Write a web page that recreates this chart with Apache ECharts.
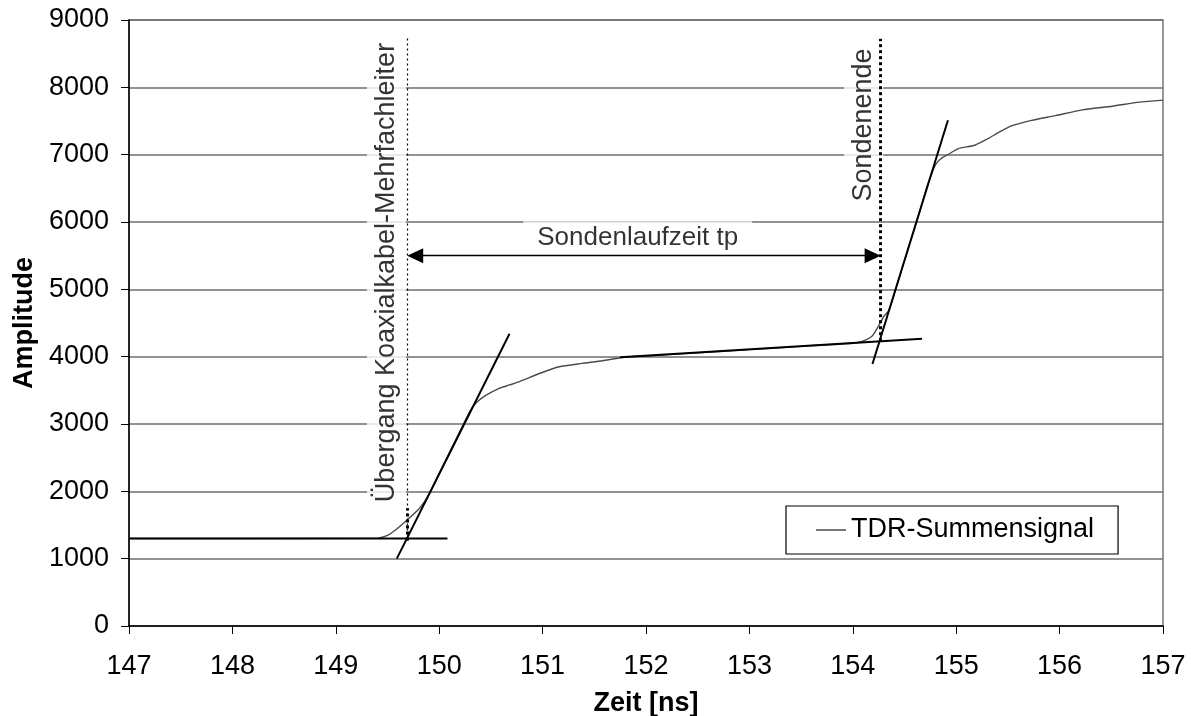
<!DOCTYPE html>
<html>
<head>
<meta charset="utf-8">
<script src="https://cdn.jsdelivr.net/npm/echarts@6/dist/echarts.min.js"></script>
<style>
  html, body { margin: 0; padding: 0; background: #fff; }
  #chart { width: 1191px; height: 716px; }
</style>
</head>
<body>
<div id="chart"></div>
<script>
// TDR-Summensignal (Zeit [ns], Amplitude)
var signal = [
  [147, 1300], [149.40, 1302], [149.45, 1318], [149.50, 1345], [149.58, 1430],
  [149.69, 1575], [149.81, 1750], [149.89, 1925], [150.00, 2270], [150.10, 2580],
  [150.20, 2890], [150.30, 3200], [150.36, 3320], [150.45, 3425], [150.58, 3530],
  [150.68, 3580], [150.77, 3625], [150.97, 3750], [151.16, 3850], [151.38, 3900],
  [151.58, 3940], [151.77, 3988], [152.00, 4010], [152.50, 4057], [153.00, 4105],
  [153.50, 4153], [154.00, 4200], [154.09, 4225], [154.19, 4311], [154.25, 4459],
  [154.30, 4600], [154.35, 4690], [154.50, 5430], [154.65, 6175], [154.72, 6530],
  [154.80, 6850], [154.86, 6950], [154.93, 7010], [155.02, 7090], [155.18, 7140],
  [155.31, 7240], [155.41, 7330], [155.54, 7430], [155.73, 7510], [155.96, 7580],
  [156.22, 7665], [156.51, 7720], [156.77, 7780], [157, 7810]
];

// Tangenten
var baseTangent = [[147, 1300], [150.08, 1300]];
var riseTangent1 = [[149.59, 1000], [150.68, 4340]];
var plateauTangent = [[151.75, 3990], [154.67, 4265]];
var riseTangent2 = [[154.19, 3890], [154.92, 7510]];

// Markierungen
var markerX = [149.69, 154.27];
var marker1Y = [1270, 1750, 8770];
var marker2Y = [4230, 8720];
var arrowY = 5500;
var arrowInset = 0.078;

var xTicks = [147, 148, 149, 150, 151, 152, 153, 154, 155, 156, 157];
var yTicks = [0, 1000, 2000, 3000, 4000, 5000, 6000, 7000, 8000, 9000];

var textLabels = [
  { text: 'Übergang Koaxialkabel-Mehrfachleiter', pos: [149.49, 5250], rotate: 90 },
  { text: 'Sondenende', pos: [154.105, 7440], rotate: 90 },
  { text: 'Sondenlaufzeit tp', pos: [151.92, 5760], rotate: 0 }
];

var font = 'Arial, "Liberation Sans", sans-serif';

function tangent(data) {
  return {
    type: 'line', data: data, symbol: 'none', silent: true, z: 4,
    lineStyle: { color: '#000', width: 2 }
  };
}

var chart = echarts.init(document.getElementById('chart'));
var option = {
  animation: false,
  backgroundColor: '#fff',
  textStyle: { fontFamily: font },
  grid: {
    left: 129, right: 28, top: 20, bottom: 90,
    outerBoundsMode: 'none', containLabel: false,
    show: true, borderColor: '#777', borderWidth: 1.5
  },
  legend: {
    data: ['TDR-Summensignal'],
    left: 786, top: 506,
    padding: [10, 24, 10, 30],
    borderColor: '#000', borderWidth: 1.2,
    icon: 'rect', itemWidth: 30, itemHeight: 1.5, itemGap: 5,
    textStyle: { fontSize: 27, color: '#000', fontFamily: font, lineHeight: 28 }
  },
  xAxis: {
    type: 'value', min: xTicks[0], max: xTicks[xTicks.length - 1], interval: 1,
    name: 'Zeit [ns]', nameLocation: 'middle', nameGap: 64,
    nameTextStyle: { fontSize: 27, fontWeight: 'bold', color: '#000', fontFamily: font },
    axisLine: { lineStyle: { color: '#000', width: 1.5 } },
    axisTick: { show: true, length: 8, lineStyle: { color: '#000' } },
    axisLabel: { fontSize: 27, color: '#000', margin: 27, fontFamily: font,
      formatter: function (v) { return String(v); } },
    splitLine: { show: false }
  },
  yAxis: {
    type: 'value', min: yTicks[0], max: yTicks[yTicks.length - 1], interval: 1000,
    name: 'Amplitude', nameLocation: 'middle', nameGap: 84,
    nameTextStyle: { fontSize: 27, fontWeight: 'bold', color: '#000', fontFamily: font },
    axisLine: { show: true, lineStyle: { color: '#000', width: 1.5 } },
    axisTick: { show: true, length: 8, lineStyle: { color: '#000' } },
    axisLabel: { fontSize: 27, color: '#000', margin: 20, fontFamily: font,
      formatter: function (v) { return String(v); } },
    splitLine: { show: true, lineStyle: { color: '#6e6e6e', width: 1.5 } }
  },
  series: [
    {
      name: 'TDR-Summensignal', type: 'line', data: signal,
      symbol: 'none', smooth: 0.2, z: 3,
      lineStyle: { color: '#4a4a4a', width: 1.4 },
      itemStyle: { color: '#4a4a4a' }
    },
    tangent(baseTangent),
    tangent(riseTangent1),
    tangent(plateauTangent),
    tangent(riseTangent2),
    {
      name: 'Markierungen', type: 'line', data: [], symbol: 'none', silent: true, z: 5,
      markLine: {
        silent: true, animation: false,
        label: { show: false },
        data: [
          [{ coord: [markerX[0], marker1Y[0]], symbol: 'none', lineStyle: { type: [2, 3], width: 1.2, color: '#000' } },
           { coord: [markerX[0], marker1Y[2]], symbol: 'none' }],
          [{ coord: [markerX[0], marker1Y[0]], symbol: 'none', lineStyle: { type: [3, 3], width: 3, color: '#000' } },
           { coord: [markerX[0], marker1Y[1]], symbol: 'none' }],
          [{ coord: [markerX[1], marker2Y[0]], symbol: 'none', lineStyle: { type: [3, 3], width: 3, color: '#000' } },
           { coord: [markerX[1], marker2Y[1]], symbol: 'none' }],
          [{ coord: [markerX[0] + arrowInset, arrowY], symbol: 'triangle', symbolSize: [15, 16],
             lineStyle: { type: 'solid', width: 1.3, color: '#000' }, itemStyle: { color: '#000' } },
           { coord: [markerX[1] - arrowInset, arrowY], symbol: 'triangle', symbolSize: [15, 16] }]
        ]
      }
    },
    {
      name: 'Texte', type: 'scatter', z: 1, silent: true,
      symbolSize: 1, itemStyle: { color: 'rgba(0,0,0,0)' },
      data: textLabels.map(function (t) {
        return {
          value: t.pos,
          label: {
            show: true, position: 'inside', formatter: t.text,
            rotate: t.rotate,
            fontSize: t.rotate ? 27 : 26,
            color: '#000', fontFamily: font,
            backgroundColor: '#fff',
            padding: t.rotate ? [6, 10] : [4, 14],
            align: 'center', verticalAlign: 'middle'
          }
        };
      })
    }
  ]
};
chart.setOption(option);
</script>
</body>
</html>
